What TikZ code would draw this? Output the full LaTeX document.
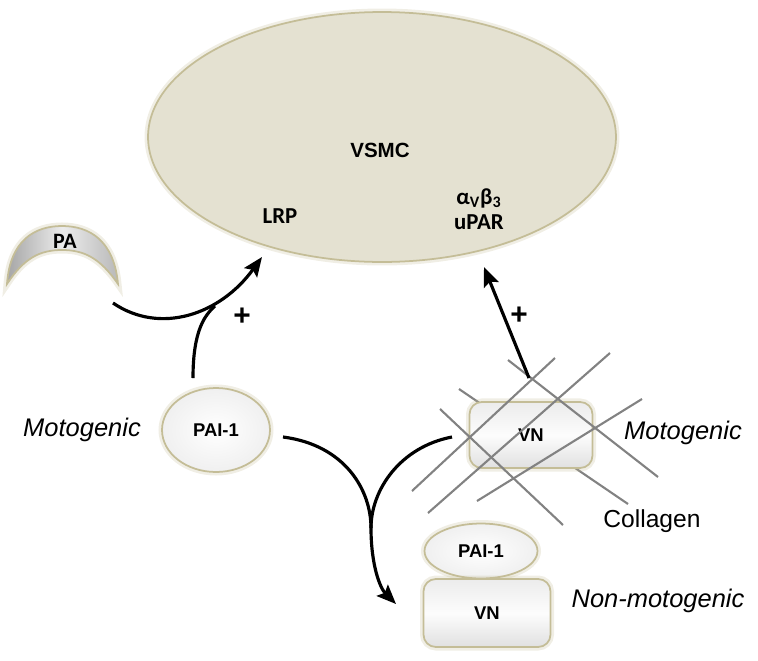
\documentclass[tikz,border=0pt]{standalone}
\usepackage{fontspec}
\setmainfont{Liberation Sans}
\newfontfamily\calib{Carlito}
\usetikzlibrary{shapes.geometric,arrows.meta,positioning}
\definecolor{cellfill}{RGB}{228,225,209}
\definecolor{glowtan}{RGB}{196,189,151}
\definecolor{fibre}{RGB}{130,130,130}

\begin{document}
\begin{tikzpicture}[x=0.02cm, y=-0.02cm,
		glow/.style={preaction={draw=glowtan, line width=4pt, opacity=0.25}, draw=glowtan, line width=1pt},
		molecule/.style={glow, ellipse, inner sep=0pt, inner color=white, outer color=gray!12, font=\fontsize{10.5}{12}\selectfont\bfseries},
		vnbox/.style={glow, rectangle, rounded corners=7pt, inner sep=0pt, top color=gray!15, bottom color=gray!24, middle color=gray!2, font=\fontsize{10.5}{12}\selectfont\bfseries},
		receptor/.style={font=\fontsize{13}{15}\selectfont\calib\bfseries, inner sep=0pt},
		sidelabel/.style={font=\fontsize{14.5}{16}\selectfont\itshape, inner sep=0pt},
		plus/.style={font=\fontsize{17}{18}\selectfont\bfseries, inner sep=0pt},
		fibril/.style={draw=fibre, line width=1.2pt},
		link/.style={draw=black, line width=1.8pt},
		signal/.style={link, -{Stealth[length=11pt, width=9pt, inset=2pt]}},
		]
		\useasboundingbox (0,0) rectangle (758,660);

		% cell
		\node[glow, ellipse, fill=cellfill, inner sep=0pt, minimum width=9.36cm, minimum height=5cm] (vsmc) at (382,137) {};
		\node[font=\fontsize{11.7}{13}\selectfont\bfseries, inner sep=0pt] (vsmclabel) at (380,150) {VSMC};
		\node[receptor] (lrp) at (280,216) {LRP};
		\node[receptor] (integrin) at (479,198) {α\textsubscript{V}β\textsubscript{3}};
		\node[receptor] (upar) at (479,222) {uPAR};

		% plasminogen activator
		\path[glow, left color=gray!70, right color=gray!55, middle color=gray!15]
			(7,284) .. controls (10,240) and (35,226) .. (62,226)
			.. controls (89,226) and (114,240) .. (118,284)
			.. controls (100,258) and (84,250) .. (62,250)
			.. controls (40,250) and (24,258) .. (7,284) -- cycle;
		\node[font=\fontsize{12.5}{14}\selectfont\calib\bfseries, inner sep=0pt] (pa) at (65,241) {PA};

		% free PAI-1
		\node[molecule, minimum width=2.16cm, minimum height=1.68cm] (pai) at (216,430) {PAI-1};
		\node[sidelabel] (motoleft) at (82,430) {Motogenic};

		% collagen behind the box
		\coordinate (c5a) at (459,389); \coordinate (c5b) at (628,504);
		\draw[fibril] (c5a) -- (c5b);

		% VN on collagen
		\node[vnbox, minimum width=2.46cm, minimum height=1.32cm] (vn) at (531,435) {VN};

		\coordinate (c1a) at (412,491); \coordinate (c1b) at (555,358);
		\coordinate (c2a) at (428,513); \coordinate (c2b) at (610,353);
		\coordinate (c3a) at (477,501); \coordinate (c3b) at (642,399);
		\coordinate (c4a) at (440,409); \coordinate (c4b) at (563,525);
		\coordinate (c6a) at (508,360); \coordinate (c6b) at (658,477);
		\foreach \f in {1,2,3,4,6}
			\draw[fibril] (c\f a) -- (c\f b);
		\node[sidelabel] (motoright) at (683,433) {Motogenic};
		\node[font=\fontsize{14}{16}\selectfont, inner sep=0pt] (collagen) at (652,521) {Collagen};

		% PAI-1/VN complex
		\node[molecule, minimum width=2.26cm, minimum height=1.1cm] (paib) at (481,551) {PAI-1};
		\node[vnbox, minimum width=2.54cm, minimum height=1.36cm] (vnb) at (487,613) {VN};
		\node[sidelabel] (nonmoto) at (658,601) {Non-motogenic};

		% connectors
		\coordinate (pastart) at (113,303);
		\coordinate (lrptip) at (262,257);
		\coordinate (vntop) at (529,378);
		\coordinate (uparTip) at (484,267);
		\coordinate (join) at (371,528);
		\coordinate (cplxtip) at (396,604);
		\draw[signal] (pastart) .. controls (160,335) and (220,315) .. (lrptip);
		\draw[link] (193,378) .. controls (193,330) and (205,315) .. (215,306);
		\draw[signal] (vntop) -- (uparTip);
		\draw[link] (283,437) .. controls (345,445) and (371,490) .. (join);
		\draw[link] (452,437) .. controls (400,447) and (371,490) .. (join);
		\draw[signal] (join) .. controls (371,565) and (380,588) .. (cplxtip);

		\node[plus] (plusleft) at (242,317) {+};
		\node[plus] (plusright) at (519,316) {+};
	\end{tikzpicture}
\end{document}
